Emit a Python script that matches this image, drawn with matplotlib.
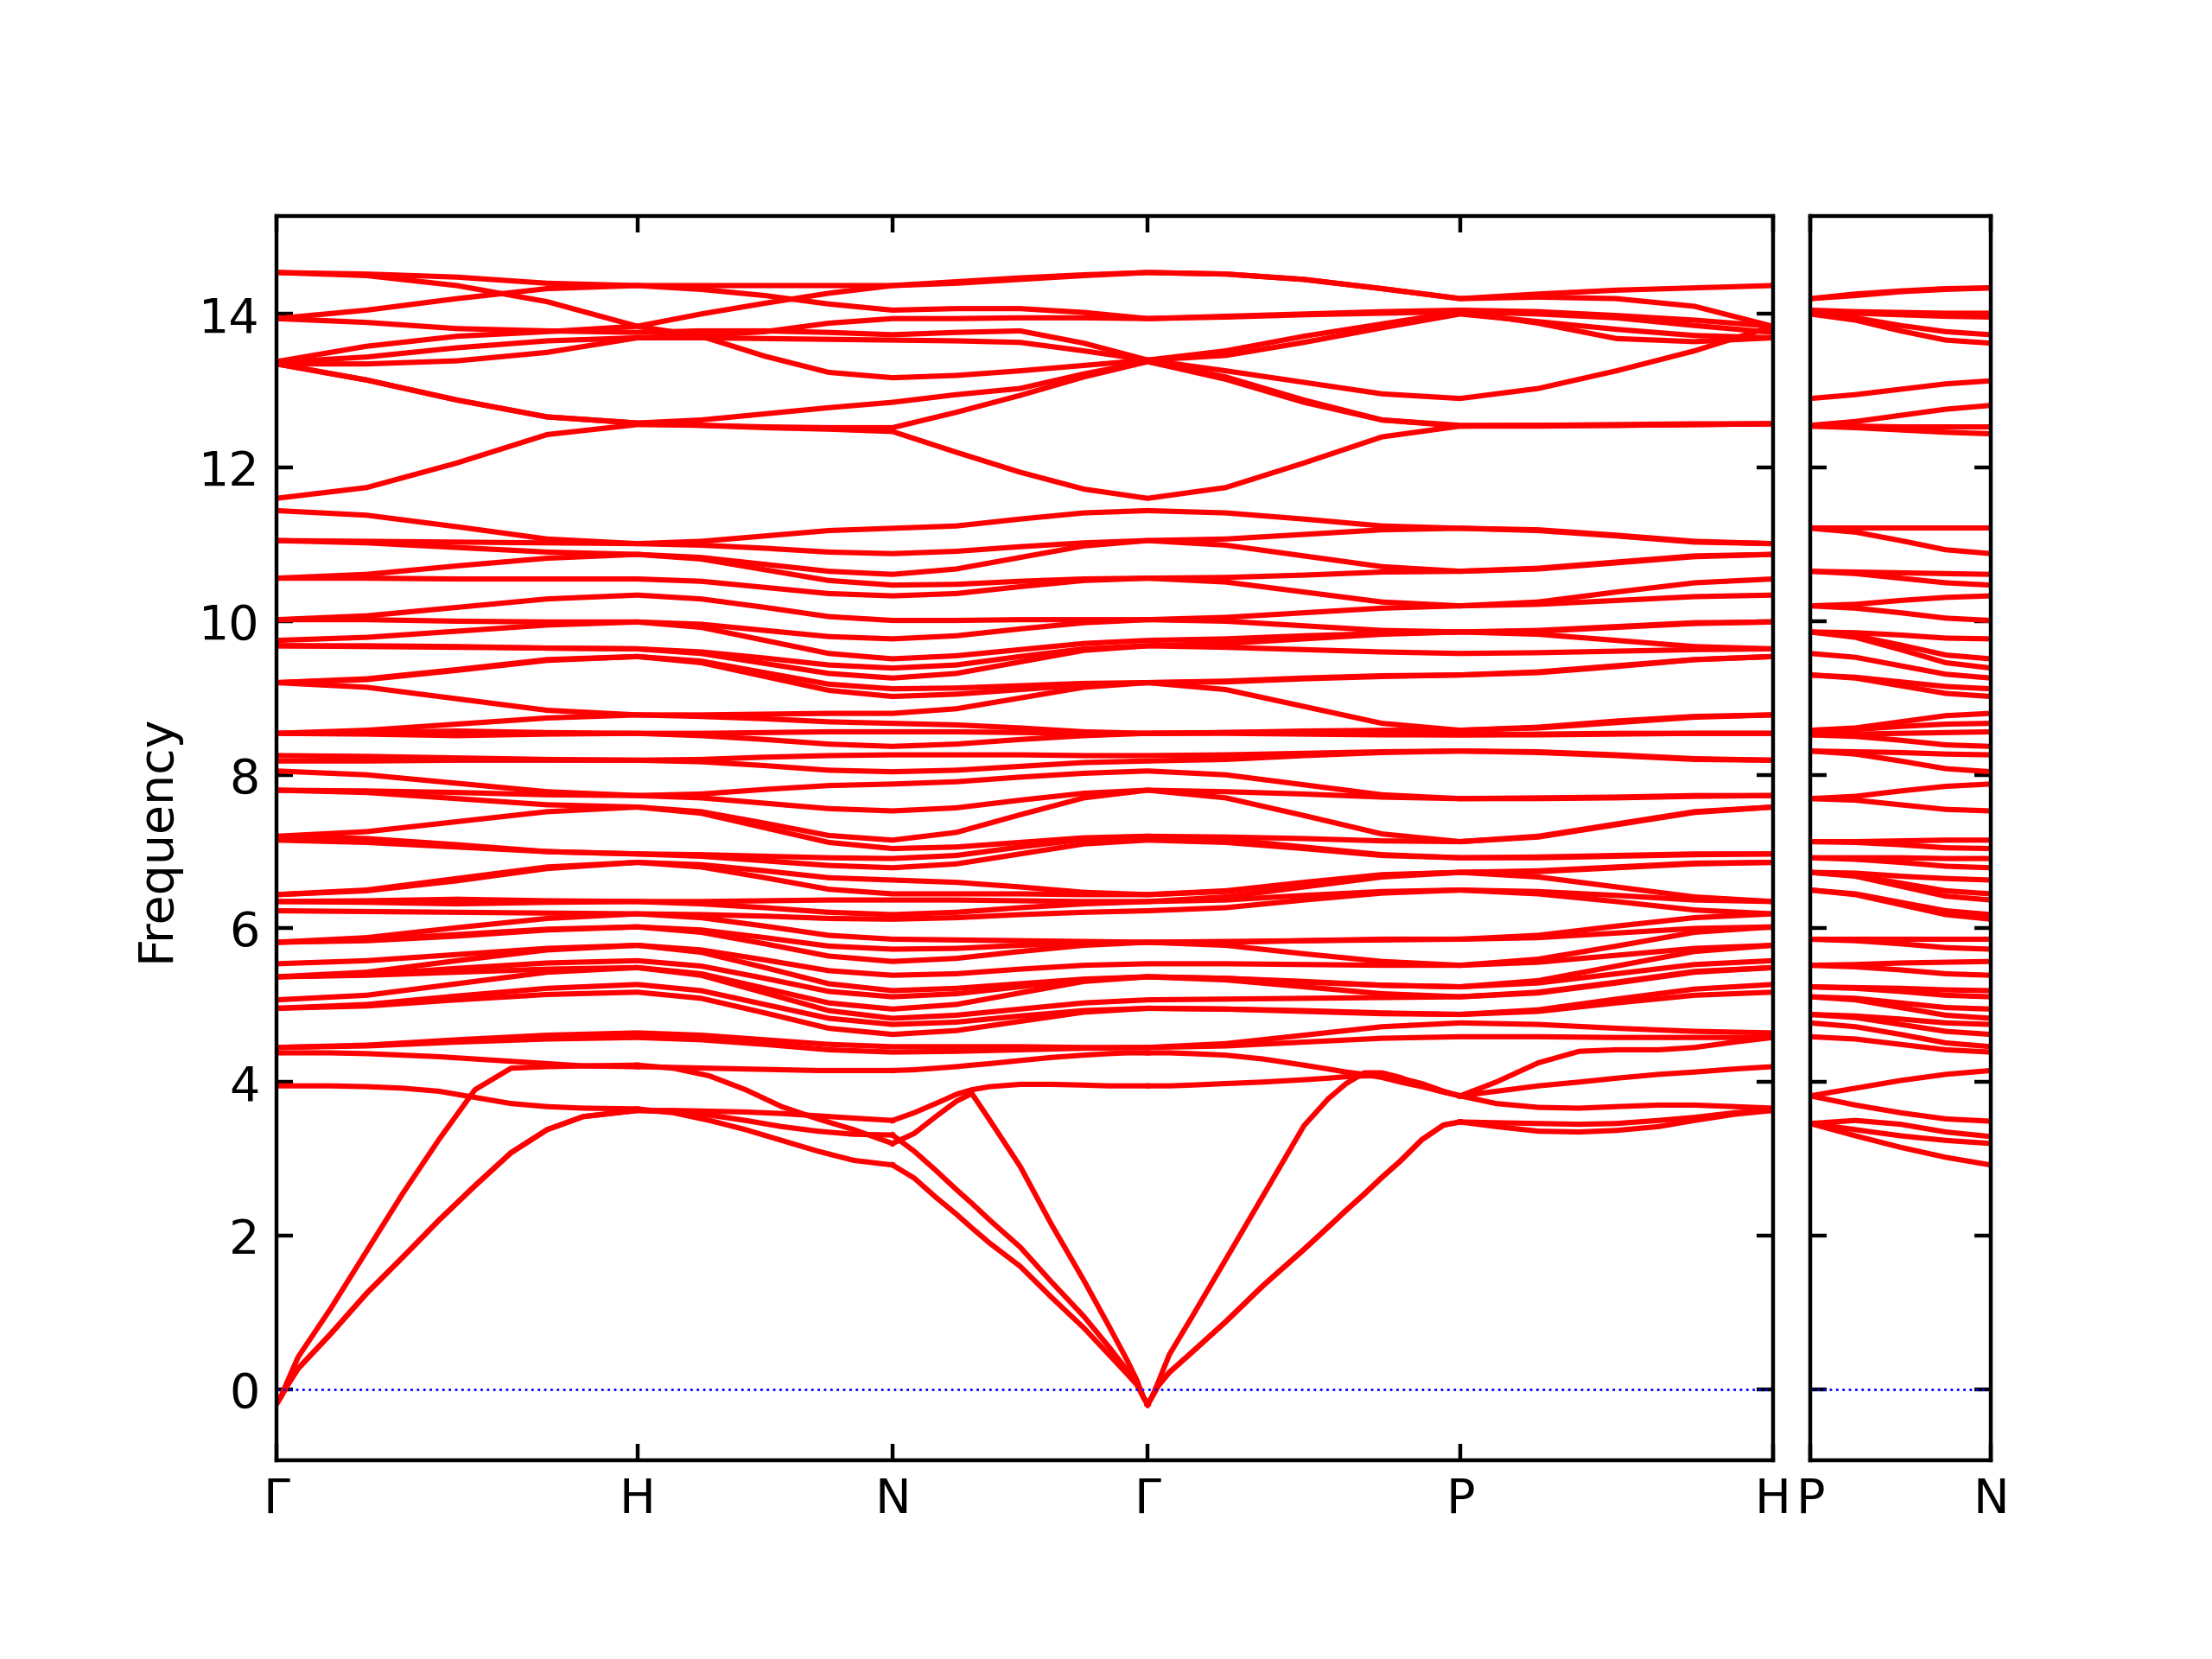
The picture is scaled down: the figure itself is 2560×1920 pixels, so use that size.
import numpy as np
import matplotlib
matplotlib.use("Agg")
import matplotlib.pyplot as plt
from matplotlib.gridspec import GridSpec

# ---------------- k-path (bcc, units of 2pi/a) ----------------
seg_len = [1.0, np.sqrt(2) / 2, np.sqrt(2) / 2, np.sqrt(3) / 2, np.sqrt(3) / 2]
main_labels = ["Γ", "H", "N", "Γ", "P", "H"]
side_len = 0.5
side_labels = ["P", "N"]
quarters = [0.0, 0.25, 0.5, 0.75]

# ---------------- high optical group (band-wise, 21 main + 5 side samples) ----------------
hi_a = [14.54, 14.52, 14.48, 14.40, 14.37, 14.37, 14.37, 14.37, 14.37, 14.42, 14.47, 14.51, 14.54,
        14.52, 14.45, 14.33, 14.20, 14.26, 14.31, 14.34, 14.37]
hi_b = [14.54, 14.50, 14.37, 14.16, 13.84, 14.00, 14.14, 14.27, 14.37, 14.40, 14.45, 14.50, 14.54,
        14.52, 14.45, 14.33, 14.20, 14.22, 14.20, 14.10, 13.84]
hi_c = [13.94, 14.05, 14.20, 14.33, 14.37, 14.32, 14.24, 14.13, 14.05, 14.07, 14.07, 14.02, 13.94,
        13.97, 14.00, 14.03, 14.05, 14.03, 13.98, 13.92, 13.84]
hi_d = [13.94, 13.89, 13.81, 13.78, 13.76, 13.78, 13.78, 13.76, 13.73, 13.76, 13.78, 13.62, 13.40,
        13.52, 13.71, 13.87, 14.03, 13.88, 13.68, 13.64, 13.69]
hi_e = [13.38, 13.58, 13.71, 13.77, 13.84, 13.71, 13.45, 13.24, 13.17, 13.20, 13.26, 13.33, 13.40,
        13.26, 13.11, 12.96, 12.90, 13.03, 13.26, 13.52, 13.84]
hi_f = [13.37, 13.44, 13.56, 13.65, 13.69, 13.69, 13.68, 13.67, 13.66, 13.65, 13.63, 13.52, 13.40,
        13.46, 13.63, 13.82, 14.00, 13.90, 13.80, 13.72, 13.69]
hi_g = [13.35, 13.35, 13.39, 13.50, 13.69, 13.72, 13.77, 13.88, 13.94, 13.94, 13.95, 13.95, 13.94,
        13.96, 13.99, 14.01, 14.03, 14.00, 13.95, 13.85, 13.76]
hi_h = [13.35, 13.14, 12.88, 12.66, 12.58, 12.62, 12.70, 12.78, 12.85, 12.95, 13.03, 13.22, 13.38,
        13.18, 12.88, 12.62, 12.55, 12.55, 12.55, 12.56, 12.57]
hi_i = [11.60, 11.74, 12.06, 12.43, 12.56, 12.55, 12.53, 12.52, 12.52, 12.72, 12.94, 13.18, 13.38,
        13.15, 12.85, 12.62, 12.54, 12.55, 12.56, 12.57, 12.57]
hi_j = [13.35, 13.14, 12.88, 12.66, 12.58, 12.55, 12.52, 12.50, 12.47, 12.20, 11.94, 11.72, 11.60,
        11.74, 12.06, 12.40, 12.54, 12.54, 12.55, 12.56, 12.57]

hi_a_side = [14.20, 14.24, 14.29, 14.32, 14.34]
hi_b_side = [14.20, 14.26, 14.30, 14.33, 14.34]
hi_c_side = [14.05, 14.03, 14.02, 14.01, 14.01]
hi_d_side = [14.03, 13.95, 13.85, 13.77, 13.73]
hi_e_side = [12.90, 12.95, 13.02, 13.09, 13.13]
hi_f_side = [14.00, 13.92, 13.78, 13.66, 13.62]
hi_g_side = [14.03, 14.01, 13.99, 13.97, 13.96]
hi_h_side = [12.55, 12.60, 12.68, 12.76, 12.81]
hi_i_side = [12.54, 12.54, 12.53, 12.53, 12.53]
hi_j_side = [12.54, 12.52, 12.49, 12.46, 12.44]

# ---------------- low group: acoustic + two lowest optical (band-wise, per segment) ----------------
k_GH = [0.0, 0.012, 0.03, 0.06, 0.15, 0.25, 0.35, 0.45, 0.55, 0.65, 0.75, 0.85, 1.0]
lo_GH_ta1 = [-0.19, -0.10, 0.05, 0.27, 0.72, 1.25, 1.72, 2.20, 2.65, 3.08, 3.38, 3.55, 3.63]
lo_GH_ta2 = [-0.19, -0.10, 0.05, 0.27, 0.72, 1.25, 1.72, 2.20, 2.65, 3.08, 3.38, 3.55, 3.63]
lo_GH_la = [-0.19, -0.10, 0.10, 0.42, 1.05, 1.80, 2.55, 3.25, 3.90, 4.18, 4.20, 4.21, 4.22]
lo_GH_o1 = [3.95, 3.95, 3.95, 3.95, 3.95, 3.94, 3.92, 3.88, 3.80, 3.72, 3.68, 3.66, 3.65]
lo_GH_o2 = [4.38, 4.38, 4.38, 4.38, 4.38, 4.37, 4.35, 4.33, 4.30, 4.27, 4.24, 4.21, 4.20]

k_HN = [0.0, 0.1, 0.2, 0.3, 0.4, 0.5, 0.6, 0.7071]
lo_HN_ta1 = [3.63, 3.63, 3.62, 3.61, 3.59, 3.56, 3.53, 3.50]
lo_HN_ta2 = [3.63, 3.61, 3.57, 3.50, 3.42, 3.36, 3.32, 3.31]
lo_HN_la = [4.22, 4.18, 4.08, 3.90, 3.68, 3.52, 3.38, 3.20]
lo_HN_o1 = [3.65, 3.60, 3.50, 3.38, 3.24, 3.10, 2.98, 2.92]
lo_HN_o2 = [4.20, 4.19, 4.18, 4.17, 4.16, 4.15, 4.15, 4.15]

k_NG = [0.0, 0.06, 0.12, 0.177, 0.22, 0.27, 0.354, 0.44, 0.53, 0.60, 0.65, 0.677, 0.695, 0.7071]
lo_NG_ta1 = [3.31, 3.10, 2.85, 2.60, 2.42, 2.20, 1.85, 1.40, 0.95, 0.55, 0.25, 0.08, -0.10, -0.20]
lo_NG_ta2 = [2.92, 2.75, 2.50, 2.28, 2.10, 1.90, 1.60, 1.20, 0.80, 0.45, 0.20, 0.06, -0.10, -0.20]
lo_NG_la = [3.20, 3.33, 3.55, 3.75, 3.85, 3.50, 2.90, 2.15, 1.42, 0.82, 0.38, 0.12, -0.10, -0.20]
lo_NG_o1 = [3.50, 3.60, 3.72, 3.84, 3.90, 3.94, 3.97, 3.97, 3.96, 3.95, 3.95, 3.95, 3.95, 3.95]
lo_NG_o2 = [4.15, 4.16, 4.18, 4.20, 4.22, 4.24, 4.28, 4.32, 4.35, 4.37, 4.38, 4.38, 4.38, 4.38]

k_GP = [0.0, 0.012, 0.03, 0.06, 0.12, 0.2165, 0.32, 0.433, 0.50, 0.55, 0.60, 0.6495, 0.70, 0.76,
        0.82, 0.866]
lo_GP_ta1 = [-0.20, -0.10, 0.05, 0.22, 0.47, 0.88, 1.35, 1.82, 2.11, 2.33, 2.54, 2.76, 2.97, 3.25,
             3.44, 3.48]
lo_GP_ta2 = [-0.20, -0.10, 0.05, 0.22, 0.47, 0.88, 1.35, 1.82, 2.11, 2.33, 2.54, 2.76, 2.97, 3.25,
             3.44, 3.48]
lo_GP_la = [-0.20, -0.10, 0.10, 0.45, 0.92, 1.69, 2.52, 3.43, 3.78, 3.98, 4.12, 4.12, 4.06, 3.95,
            3.87, 3.82]
lo_GP_o1 = [3.95, 3.95, 3.95, 3.95, 3.96, 3.98, 4.00, 4.03, 4.05, 4.07, 4.08, 4.08, 4.05, 3.98,
            3.88, 3.82]
lo_GP_o2 = [4.38, 4.38, 4.38, 4.38, 4.37, 4.35, 4.30, 4.22, 4.17, 4.13, 4.10, 4.06, 4.00, 3.94,
            3.87, 3.82]

k_PH = [0.0, 0.1, 0.2165, 0.33, 0.433, 0.55, 0.6495, 0.76, 0.866]
lo_PH_ta1 = [3.48, 3.47, 3.46, 3.45, 3.46, 3.50, 3.54, 3.60, 3.63]
lo_PH_ta2 = [3.48, 3.42, 3.36, 3.35, 3.37, 3.42, 3.50, 3.58, 3.63]
lo_PH_la = [3.82, 3.88, 3.95, 4.00, 4.05, 4.10, 4.13, 4.17, 4.20]
lo_PH_o1 = [3.82, 3.72, 3.67, 3.66, 3.68, 3.70, 3.70, 3.68, 3.66]
lo_PH_o2 = [3.82, 4.00, 4.25, 4.40, 4.42, 4.42, 4.45, 4.52, 4.58]

k_PN = [0.0, 0.125, 0.25, 0.375, 0.5]
lo_PN_ta1 = [3.46, 3.50, 3.45, 3.35, 3.29]
lo_PN_ta2 = [3.46, 3.30, 3.15, 3.02, 2.92]
lo_PN_la = [3.46, 3.38, 3.30, 3.24, 3.20]
lo_PN_o1 = [3.82, 3.70, 3.60, 3.52, 3.49]
lo_PN_o2 = [3.82, 3.92, 4.02, 4.10, 4.15]

# ---------------- middle group: sorted frequencies read at each sampled k-point ----------------
mid_G = [4.45, 4.45, 4.96, 4.96, 5.07, 5.37, 5.37, 5.37, 5.54, 5.82, 5.82, 5.82, 6.23, 6.35,
         6.35, 6.44, 6.44, 7.15, 7.20, 7.20, 7.80, 7.80, 8.05, 8.18, 8.25, 8.54, 8.54, 8.54,
         9.20, 9.20, 9.20, 9.68, 9.68, 9.75, 10.02, 10.02, 10.56, 10.56, 11.05, 11.05, 11.44]
mid_GH1 = [4.47, 4.48, 4.99, 5.01, 5.13, 5.39, 5.40, 5.43, 5.58, 5.85, 5.84, 5.88, 6.22, 6.36,
           6.34, 6.50, 6.49, 7.12, 7.17, 7.26, 7.77, 7.79, 8.00, 8.18, 8.24, 8.55, 8.53, 8.58,
           9.14, 9.25, 9.24, 9.67, 9.68, 9.79, 10.02, 10.07, 10.56, 10.61, 11.02, 11.04, 11.38]
mid_GH2 = [4.52, 4.55, 5.07, 5.12, 5.28, 5.43, 5.48, 5.58, 5.66, 5.92, 5.90, 6.01, 6.21, 6.38,
           6.32, 6.65, 6.62, 7.06, 7.09, 7.39, 7.69, 7.77, 7.89, 8.19, 8.22, 8.57, 8.51, 8.66,
           8.99, 9.37, 9.36, 9.66, 9.67, 9.87, 10.00, 10.18, 10.55, 10.72, 10.96, 11.03, 11.23]
mid_GH3 = [4.56, 4.61, 5.14, 5.22, 5.43, 5.47, 5.55, 5.72, 5.74, 5.99, 5.98, 6.13, 6.20, 6.36,
           6.34, 6.80, 6.78, 7.00, 7.00, 7.52, 7.61, 7.74, 7.78, 8.19, 8.20, 8.55, 8.53, 8.74,
           8.84, 9.49, 9.50, 9.65, 9.65, 9.95, 9.99, 10.29, 10.55, 10.82, 10.90, 11.02, 11.07]
mid_H = [4.58, 4.64, 5.17, 5.27, 5.49, 5.49, 5.58, 5.78, 5.78, 6.02, 6.02, 6.19, 6.19, 6.35,
         6.35, 6.86, 6.86, 6.97, 6.97, 7.58, 7.58, 7.73, 7.73, 8.19, 8.19, 8.54, 8.54, 8.78,
         8.78, 9.54, 9.54, 9.64, 9.64, 9.99, 9.99, 10.34, 10.55, 10.87, 10.87, 11.01, 11.01]
mid_HN1 = [4.55, 4.61, 5.09, 5.19, 5.39, 5.41, 5.51, 5.69, 5.72, 5.95, 5.98, 6.14, 6.18, 6.32,
           6.35, 6.80, 6.83, 6.94, 6.96, 7.50, 7.52, 7.70, 7.75, 8.17, 8.20, 8.51, 8.54, 8.76,
           8.78, 9.46, 9.48, 9.58, 9.60, 9.92, 9.96, 10.29, 10.52, 10.81, 10.83, 10.99, 11.04]
mid_HN2 = [4.49, 4.55, 4.90, 5.01, 5.16, 5.22, 5.35, 5.49, 5.59, 5.80, 5.88, 6.03, 6.16, 6.27,
           6.36, 6.66, 6.75, 6.88, 6.94, 7.31, 7.37, 7.63, 7.81, 8.12, 8.23, 8.46, 8.55, 8.73,
           8.79, 9.28, 9.33, 9.45, 9.52, 9.75, 9.88, 10.18, 10.44, 10.67, 10.74, 10.95, 11.11]
mid_HN3 = [4.42, 4.49, 4.70, 4.83, 4.93, 5.03, 5.18, 5.28, 5.45, 5.64, 5.77, 5.91, 6.13, 6.21,
           6.37, 6.51, 6.66, 6.82, 6.92, 7.12, 7.21, 7.56, 7.86, 8.06, 8.25, 8.40, 8.56, 8.69,
           8.80, 9.10, 9.18, 9.32, 9.43, 9.58, 9.80, 10.06, 10.36, 10.53, 10.65, 10.90, 11.18]
mid_N = [4.39, 4.46, 4.62, 4.75, 4.83, 4.95, 5.11, 5.19, 5.39, 5.57, 5.73, 5.86, 6.12, 6.18,
         6.37, 6.45, 6.63, 6.79, 6.91, 7.04, 7.15, 7.53, 7.88, 8.04, 8.26, 8.37, 8.56, 8.67,
         8.80, 9.02, 9.12, 9.26, 9.39, 9.51, 9.77, 10.01, 10.33, 10.47, 10.61, 10.88, 11.21]
mid_NG1 = [4.40, 4.46, 4.67, 4.78, 4.87, 5.01, 5.15, 5.22, 5.41, 5.61, 5.74, 5.85, 6.14, 6.21,
           6.37, 6.45, 6.60, 6.84, 6.95, 7.06, 7.25, 7.57, 7.91, 8.06, 8.26, 8.40, 8.56, 8.65,
           8.86, 9.05, 9.13, 9.32, 9.43, 9.55, 9.81, 10.01, 10.36, 10.48, 10.68, 10.91, 11.24]
mid_NG2 = [4.42, 4.46, 4.79, 4.86, 4.95, 5.16, 5.24, 5.28, 5.47, 5.70, 5.78, 5.84, 6.18, 6.27,
           6.36, 6.45, 6.54, 6.97, 7.06, 7.12, 7.48, 7.67, 7.97, 8.11, 8.26, 8.46, 8.55, 8.61,
           9.00, 9.11, 9.16, 9.47, 9.54, 9.63, 9.90, 10.02, 10.45, 10.52, 10.83, 10.97, 11.33]
mid_NG3 = [4.44, 4.45, 4.91, 4.93, 5.03, 5.31, 5.33, 5.34, 5.52, 5.78, 5.81, 5.83, 6.21, 6.32,
           6.35, 6.44, 6.47, 7.10, 7.16, 7.18, 7.70, 7.76, 8.02, 8.16, 8.25, 8.51, 8.54, 8.56,
           9.14, 9.17, 9.19, 9.62, 9.64, 9.71, 9.98, 10.02, 10.53, 10.55, 10.98, 11.02, 11.41]
mid_GP1 = [4.47, 4.50, 4.95, 4.95, 5.08, 5.33, 5.35, 5.35, 5.54, 5.78, 5.83, 5.82, 6.27, 6.37,
           6.41, 6.48, 6.49, 7.12, 7.16, 7.19, 7.70, 7.78, 8.00, 8.20, 8.26, 8.54, 8.55, 8.55,
           9.11, 9.22, 9.21, 9.66, 9.71, 9.77, 10.00, 10.05, 10.51, 10.57, 10.99, 11.07, 11.41]
mid_GP2 = [4.52, 4.61, 4.92, 4.93, 5.09, 5.24, 5.30, 5.31, 5.53, 5.67, 5.84, 5.84, 6.37, 6.43,
           6.54, 6.59, 6.60, 7.04, 7.06, 7.17, 7.47, 7.75, 7.87, 8.25, 8.28, 8.53, 8.56, 8.57,
           8.89, 9.25, 9.26, 9.63, 9.77, 9.81, 9.94, 10.11, 10.38, 10.60, 10.85, 11.13, 11.33]
mid_GP3 = [4.57, 4.72, 4.89, 4.90, 5.10, 5.15, 5.26, 5.26, 5.52, 5.57, 5.85, 5.86, 6.46, 6.48,
           6.67, 6.69, 6.70, 6.95, 6.96, 7.14, 7.23, 7.71, 7.74, 8.29, 8.30, 8.52, 8.53, 8.58,
           8.67, 9.29, 9.28, 9.60, 9.83, 9.84, 9.88, 10.17, 10.25, 10.64, 10.71, 11.19, 11.24]
mid_P = [4.59, 4.77, 4.88, 4.88, 5.11, 5.11, 5.24, 5.24, 5.52, 5.52, 5.86, 5.86, 6.50, 6.50,
         6.73, 6.73, 6.73, 6.92, 6.92, 7.13, 7.13, 7.69, 7.69, 8.31, 8.31, 8.52, 8.52, 8.58,
         8.58, 9.30, 9.30, 9.58, 9.86, 9.86, 9.86, 10.20, 10.20, 10.65, 10.65, 11.21, 11.21]
mid_PH1 = [4.59, 4.75, 4.92, 4.94, 5.17, 5.16, 5.29, 5.32, 5.56, 5.60, 5.88, 5.91, 6.45, 6.48,
           6.67, 6.75, 6.74, 6.93, 6.92, 7.20, 7.19, 7.70, 7.69, 8.29, 8.30, 8.52, 8.53, 8.61,
           8.62, 9.34, 9.33, 9.59, 9.83, 9.88, 9.87, 10.22, 10.25, 10.68, 10.69, 11.18, 11.19]
mid_PH2 = [4.58, 4.70, 5.03, 5.08, 5.30, 5.29, 5.41, 5.51, 5.65, 5.77, 5.94, 6.03, 6.35, 6.43,
           6.54, 6.80, 6.79, 6.95, 6.94, 7.36, 7.35, 7.71, 7.70, 8.25, 8.26, 8.53, 8.54, 8.68,
           8.70, 9.42, 9.41, 9.61, 9.75, 9.93, 9.92, 10.27, 10.38, 10.76, 10.77, 11.11, 11.12]
mid_PH3 = [4.58, 4.66, 5.13, 5.21, 5.43, 5.44, 5.53, 5.70, 5.74, 5.95, 6.00, 6.14, 6.24, 6.37,
           6.41, 6.84, 6.85, 6.96, 6.97, 7.51, 7.52, 7.72, 7.73, 8.21, 8.20, 8.54, 8.54, 8.75,
           8.76, 9.50, 9.50, 9.63, 9.67, 9.97, 9.98, 10.32, 10.50, 10.84, 10.85, 11.04, 11.03]
mid_PN1 = [4.56, 4.72, 4.84, 4.86, 5.07, 5.09, 5.22, 5.23, 5.50, 5.53, 5.84, 5.86, 6.44, 6.45,
           6.68, 6.69, 6.72, 6.90, 6.92, 7.12, 7.13, 7.67, 7.72, 8.27, 8.30, 8.50, 8.53, 8.59,
           8.61, 9.26, 9.27, 9.53, 9.79, 9.81, 9.85, 10.17, 10.22, 10.62, 10.64, 11.16, 11.21]
mid_PN2 = [4.49, 4.62, 4.75, 4.82, 4.97, 5.03, 5.18, 5.22, 5.46, 5.55, 5.80, 5.86, 6.31, 6.34,
           6.55, 6.59, 6.68, 6.86, 6.92, 7.09, 7.14, 7.61, 7.79, 8.18, 8.29, 8.45, 8.54, 8.63,
           8.69, 9.16, 9.21, 9.42, 9.63, 9.69, 9.82, 10.11, 10.27, 10.56, 10.63, 11.05, 11.21]
mid_PN3 = [4.42, 4.51, 4.66, 4.77, 4.87, 4.97, 5.13, 5.20, 5.41, 5.56, 5.75, 5.86, 6.18, 6.23,
           6.42, 6.49, 6.65, 6.81, 6.91, 7.05, 7.15, 7.55, 7.85, 8.08, 8.27, 8.39, 8.55, 8.66,
           8.77, 9.06, 9.15, 9.31, 9.46, 9.56, 9.78, 10.04, 10.31, 10.50, 10.62, 10.93, 11.21]

# ---------------- figure ----------------
band_color = "red"
band_lw = 1.1

nodes = np.concatenate([[0.0], np.cumsum(seg_len)])
k_main = np.concatenate([nodes[i] + seg_len[i] * np.array(quarters) for i in range(len(seg_len))]
                        + [[nodes[-1]]])
k_side = side_len * np.array(quarters + [1.0])

fig = plt.figure(figsize=(6.4, 4.8), dpi=400)
gs = GridSpec(1, 2, width_ratios=[nodes[-1], side_len], left=0.125, right=0.9,
              bottom=0.12, top=0.87, wspace=0.045)
ax = fig.add_subplot(gs[0])
ax2 = fig.add_subplot(gs[1])

hi_main = [hi_a, hi_b, hi_c, hi_d, hi_e, hi_f, hi_g, hi_h, hi_i, hi_j]
hi_side = [hi_a_side, hi_b_side, hi_c_side, hi_d_side, hi_e_side, hi_f_side, hi_g_side,
           hi_h_side, hi_i_side, hi_j_side]
for b in hi_main:
    ax.plot(k_main, b, color=band_color, lw=band_lw)
for b in hi_side:
    ax2.plot(k_side, b, color=band_color, lw=band_lw)

low_segments = [
    (0, k_GH, [lo_GH_ta1, lo_GH_ta2, lo_GH_la, lo_GH_o1, lo_GH_o2]),
    (1, k_HN, [lo_HN_ta1, lo_HN_ta2, lo_HN_la, lo_HN_o1, lo_HN_o2]),
    (2, k_NG, [lo_NG_ta1, lo_NG_ta2, lo_NG_la, lo_NG_o1, lo_NG_o2]),
    (3, k_GP, [lo_GP_ta1, lo_GP_ta2, lo_GP_la, lo_GP_o1, lo_GP_o2]),
    (4, k_PH, [lo_PH_ta1, lo_PH_ta2, lo_PH_la, lo_PH_o1, lo_PH_o2]),
]
for seg, ks, bands in low_segments:
    for b in bands:
        ax.plot(nodes[seg] + np.array(ks), b, color=band_color, lw=band_lw)
for b in [lo_PN_ta1, lo_PN_ta2, lo_PN_la, lo_PN_o1, lo_PN_o2]:
    ax2.plot(k_PN, b, color=band_color, lw=band_lw)

mid_main_cols = [mid_G, mid_GH1, mid_GH2, mid_GH3, mid_H, mid_HN1, mid_HN2, mid_HN3, mid_N,
                 mid_NG1, mid_NG2, mid_NG3, mid_G, mid_GP1, mid_GP2, mid_GP3, mid_P,
                 mid_PH1, mid_PH2, mid_PH3, mid_H]
mid_main = np.array([np.sort(c) for c in mid_main_cols])
for j in range(mid_main.shape[1]):
    ax.plot(k_main, mid_main[:, j], color=band_color, lw=band_lw)
mid_side_cols = [mid_P, mid_PN1, mid_PN2, mid_PN3, mid_N]
mid_side = np.array([np.sort(c) for c in mid_side_cols])
for j in range(mid_side.shape[1]):
    ax2.plot(k_side, mid_side[:, j], color=band_color, lw=band_lw)

for a in (ax, ax2):
    a.axhline(0, color="blue", ls=":", lw=0.5)
    a.set_ylim(-0.92, 15.28)
    a.set_yticks(range(0, 15, 2))
    a.tick_params(direction="in", top=True, right=True)

ax.set_xlim(0, nodes[-1])
ax.set_xticks(nodes)
ax.set_xticklabels(main_labels)
ax.set_ylabel("Frequency")

ax2.set_xlim(0, side_len)
ax2.set_xticks([0, side_len])
ax2.set_xticklabels(side_labels)
ax2.tick_params(labelleft=False)

fig.savefig("out.png", dpi=400)
